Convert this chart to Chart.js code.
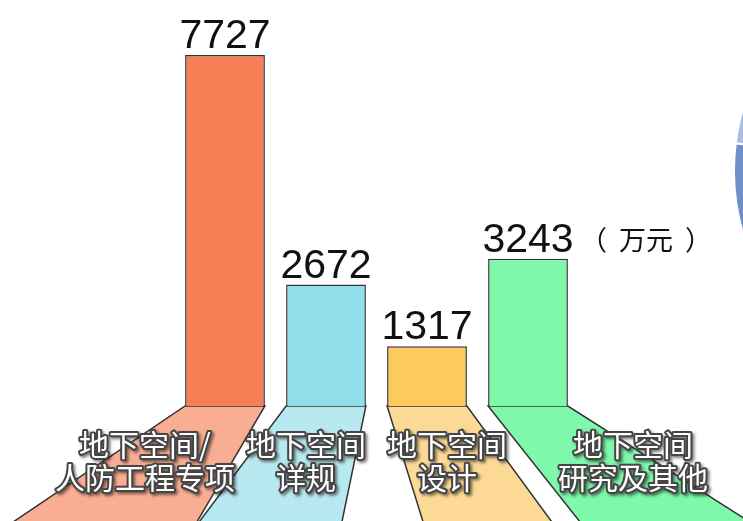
<!DOCTYPE html>
<html lang="zh">

<head>
  <meta charset="UTF-8">
  <title>地下空间项目金额</title>
  <style>
    body {
      margin: 0;
      width: 743px;
      height: 521px;
      overflow: hidden;
      position: relative;
      background: #ffffff;
    }

    #barChart {
      position: absolute;
      left: 0;
      top: 0;
    }

    .pie-wrap {
      position: absolute;
      left: 733px;
      top: -52px;
      width: 446px;
      height: 446px;
    }
  </style>
</head>

<body>
  <canvas id="barChart" width="743" height="521"></canvas>
  <div class="pie-wrap"><canvas id="pieChart"></canvas></div>

  <script src="https://cdn.jsdelivr.net/npm/chart.js"></script>
  <script>
    // amounts in 万元
    const categories = [
      ['地下空间/', '人防工程专项'],
      ['地下空间', '详规'],
      ['地下空间', '设计'],
      ['地下空间', '研究及其他']
    ];
    const amounts = [7727, 2672, 1317, 3243];
    const unitLabel = '（万元）';

    // share split of the pie at the right edge
    const pieShares = [77, 23];

    const barColors = ['#f87e55', '#8fdeea', '#fec95f', '#7ef8aa'];
    const floorColors = ['#f9ae93', '#b9e9f0', '#fdd996', '#7ef8aa'];
    const pieColors = ['#6f8fc7', '#a9bee0'];

    // floor strips: how far the left/right edges drift by the bottom of the canvas
    const floorSkew = [[-172, -68], [-87, -24], [36, 85], [92, 182]];
    // horizontal shift of each category caption from its bar centre
    const captionShift = [-80, -20, 20, 105];

    const outline = '#333333';

    const decorPlugin = {
      id: 'decor',
      beforeDatasetsDraw(chart) {
        const ctx = chart.ctx;
        const bottom = chart.height;
        ctx.save();
        chart.getDatasetMeta(0).data.forEach((bar, i) => {
          const half = bar.width / 2;
          const top = bar.base;
          const [dl, dr] = floorSkew[i];
          ctx.beginPath();
          ctx.moveTo(bar.x - half, top);
          ctx.lineTo(bar.x + half, top);
          ctx.lineTo(bar.x + half + dr, bottom + 1);
          ctx.lineTo(bar.x - half + dl, bottom + 1);
          ctx.closePath();
          ctx.fillStyle = floorColors[i];
          ctx.fill();
          ctx.lineWidth = 1.5;
          ctx.strokeStyle = outline;
          ctx.stroke();
        });
        ctx.restore();
      },
      afterDatasetsDraw(chart) {
        const ctx = chart.ctx;
        const bars = chart.getDatasetMeta(0).data;
        ctx.save();

        // values above the bars
        ctx.fillStyle = '#111111';
        ctx.font = '41px "Liberation Sans", Arial, sans-serif';
        ctx.textAlign = 'center';
        ctx.textBaseline = 'alphabetic';
        bars.forEach((bar, i) => {
          ctx.fillText(String(amounts[i]), bar.x, bar.y - 7);
        });

        // unit next to the last value: brackets set a little apart from the word
        const last = bars[bars.length - 1];
        const ux = last.x + last.width / 2 + 12;
        const uy = last.y - 9;
        const open = unitLabel.slice(0, 1);
        const word = unitLabel.slice(1, -1);
        const close = unitLabel.slice(-1);
        ctx.font = '27px "Noto Sans CJK SC", sans-serif';
        ctx.textAlign = 'left';
        ctx.fillText(open, ux, uy);
        ctx.fillText(word, ux + 39, uy);
        ctx.fillText(close, ux + 39 + ctx.measureText(word).width + 12, uy);

        // category captions on the floor strips
        ctx.font = '30px "Noto Sans CJK SC", sans-serif';
        ctx.textAlign = 'center';
        ctx.textBaseline = 'middle';
        ctx.lineJoin = 'round';
        bars.forEach((bar, i) => {
          const cx = bar.x + captionShift[i];
          categories[i].forEach((line, k) => {
            const cy = bar.base + 39 + k * 33;
            ctx.save();
            ctx.shadowColor = 'rgba(0,0,0,0.5)';
            ctx.shadowBlur = 3;
            ctx.shadowOffsetX = 2;
            ctx.shadowOffsetY = 2;
            ctx.lineWidth = 4;
            ctx.strokeStyle = '#454545';
            ctx.strokeText(line, cx, cy);
            ctx.restore();
            ctx.fillStyle = '#ffffff';
            ctx.fillText(line, cx, cy);
          });
        });
        ctx.restore();
      }
    };

    new Chart(document.getElementById('barChart'), {
      type: 'bar',
      data: {
        labels: categories,
        datasets: [{
          data: amounts,
          backgroundColor: barColors,
          borderColor: outline,
          borderWidth: 1.5,
          borderSkipped: 'bottom',
          categoryPercentage: 1,
          barPercentage: 0.79
        }]
      },
      options: {
        responsive: false,
        animation: false,
        layout: { padding: { left: 174.5, right: 164.5, top: 55, bottom: 115 } },
        plugins: { legend: { display: false }, tooltip: { enabled: false } },
        scales: {
          x: { display: false },
          y: { display: false, min: 0, max: Math.max(...amounts) }
        }
      },
      plugins: [decorPlugin]
    });

    new Chart(document.getElementById('pieChart'), {
      type: 'pie',
      data: {
        datasets: [{
          data: pieShares,
          backgroundColor: pieColors,
          borderColor: '#ffffff',
          borderWidth: 2
        }]
      },
      options: {
        responsive: true,
        maintainAspectRatio: false,
        animation: false,
        layout: { padding: 0 },
        plugins: { legend: { display: false }, tooltip: { enabled: false } }
      }
    });
  </script>
</body>

</html>
